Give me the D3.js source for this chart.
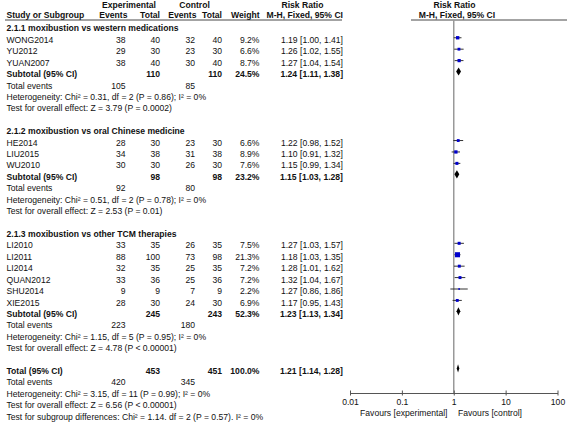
<!DOCTYPE html>
<html><head><meta charset="utf-8">
<script src="https://cdn.jsdelivr.net/npm/d3@7"></script>
<style>
html,body{margin:0;padding:0;background:#fff;}
svg text{font-family:"Liberation Sans",Arial,sans-serif;font-size:8.6px;fill:#111;}
svg text.b{font-weight:bold;}
</style></head>
<body>
<svg id="c" width="567" height="424"></svg>
<script>
// ---------- data ----------
const groupTitles = ["2.1.1 moxibustion vs western medications","2.1.2 moxibustion vs oral Chinese medicine","2.1.3 moxibustion vs other TCM therapies"];
const studyNames = [
  ["WONG2014","YU2012","YUAN2007"],
  ["HE2014","LIU2015","WU2010"],
  ["LI2010","LI2011","LI2014","QUAN2012","SHU2014","XIE2015"]
];
const expEvents = [[38,29,38],[28,34,30],[33,88,32,33,9,28]];
const expTotal  = [[40,30,40],[30,38,30],[35,100,35,36,9,30]];
const ctlEvents = [[32,23,30],[23,31,26],[26,73,25,25,7,24]];
const ctlTotal  = [[40,30,40],[30,38,30],[35,98,35,36,9,30]];
const weights   = [[9.2,6.6,8.7],[6.6,8.9,7.6],[7.5,21.3,7.2,7.2,2.2,6.9]];
const rr        = [[1.19,1.26,1.27],[1.22,1.10,1.15],[1.27,1.18,1.28,1.32,1.27,1.17]];
const rrLow     = [[1.00,1.02,1.04],[0.98,0.91,0.99],[1.03,1.03,1.01,1.04,0.86,0.95]];
const rrHigh    = [[1.41,1.55,1.54],[1.52,1.32,1.34],[1.57,1.35,1.62,1.67,1.86,1.43]];
const subExpTotal = [110,98,245];
const subCtlTotal = [110,98,243];
const subWeight   = ["24.5%","23.2%","52.3%"];
const subRR   = [1.24,1.15,1.23];
const subLow  = [1.11,1.03,1.13];
const subHigh = [1.38,1.28,1.34];
const subExpEvents = [105,92,223];
const subCtlEvents = [85,80,180];
const subHet = ["Heterogeneity: Chi² = 0.31, df = 2 (P = 0.86); I² = 0%",
                "Heterogeneity: Chi² = 0.51, df = 2 (P = 0.78); I² = 0%",
                "Heterogeneity: Chi² = 1.15, df = 5 (P = 0.95); I² = 0%"];
const subTest = ["Test for overall effect: Z = 3.79 (P = 0.0002)",
                 "Test for overall effect: Z = 2.53 (P = 0.01)",
                 "Test for overall effect: Z = 4.78 (P < 0.00001)"];
const totExpTotal = 453, totCtlTotal = 451, totWeight = "100.0%";
const totRR = 1.21, totLow = 1.14, totHigh = 1.28;
const totExpEvents = 420, totCtlEvents = 345;
const totLines = ["Heterogeneity: Chi² = 3.15, df = 11 (P = 0.99); I² = 0%",
                  "Test for overall effect: Z = 6.56 (P < 0.00001)",
                  "Test for subgroup differences: Chi² = 1.14. df = 2 (P = 0.57). I² = 0%"];
const tickValues = [0.01,0.1,1,10,100];
const tickLabels = ["0.01","0.1","1","10","100"];
const favourLabels = ["Favours [experimental]","Favours [control]"];

// ---------- layout ----------
const svg = d3.select("#c");
const xs = d3.scaleLog().domain([0.01,100]).range([350,557.5]);
const rowY = i => 5.5 + i*11.42;      // text centre of row i
const base = i => rowY(i) + 3.1;      // baseline
const colX = {left:6.5, ee:125.5, et:160, ce:195, ct:222, w:259.5, rr:343};
const f2 = v => v.toFixed(2);
const ciTxt = (m,l,h) => `${f2(m)} [${f2(l)}, ${f2(h)}]`;

function txt(x,y,s,anchor,bold){
  svg.append("text").attr("x",x).attr("y",y).attr("text-anchor",anchor||"start")
     .attr("class",bold?"b":null).text(s);
}

// headers
txt(129,8,"Experimental","middle",true);
txt(194.5,8,"Control","middle",true);
txt(302.5,8,"Risk Ratio","middle",true);
txt(454.5,8,"Risk Ratio","middle",true);
txt(colX.left,18.3,"Study or Subgroup","start",true);
txt(127.5,18.3,"Events","end",true);
txt(colX.et,18.3,"Total","end",true);
txt(196.5,18.3,"Events","end",true);
txt(colX.ct,18.3,"Total","end",true);
txt(colX.w,18.3,"Weight","end",true);
txt(colX.rr,18.3,"M-H, Fixed, 95% CI","end",true);
txt(457,18.3,"M-H, Fixed, 95% CI","middle",true);
svg.append("line").attr("x1",5).attr("x2",342).attr("y1",20).attr("y2",20).attr("stroke","#333").attr("stroke-width",0.9);
svg.append("line").attr("x1",411).attr("x2",567).attr("y1",20).attr("y2",20).attr("stroke","#333").attr("stroke-width",0.9);

// null line
const axisY = 393;
svg.append("line").attr("x1",xs(1)).attr("x2",xs(1)).attr("y1",20).attr("y2",axisY)
   .attr("stroke","#999").attr("stroke-width",1.5);

const marks = svg.append("g");
function studyMark(i,m,l,h,w){
  const y = rowY(i)-2;
  marks.append("line").attr("x1",xs(l)).attr("x2",xs(h)).attr("y1",y).attr("y2",y)
       .attr("stroke","#333").attr("stroke-width",1);
  const s = 1.1*Math.sqrt(w);
  marks.append("rect").attr("x",xs(m)-s/2).attr("y",y-s/2).attr("width",s).attr("height",s)
       .attr("fill","#0000cc");
}
function diamond(i,m,l,h){
  const y = rowY(i)-2.5, hh = 4.1;
  marks.append("path").attr("d",`M${xs(l)},${y}L${xs(m)},${y-hh}L${xs(h)},${y}L${xs(m)},${y+hh}Z`)
       .attr("fill","#000");
}

let r = 2;
groupTitles.forEach((g,gi)=>{
  txt(colX.left,base(r),g,"start",true); r++;
  studyNames[gi].forEach((n,si)=>{
    txt(colX.left,base(r),n);
    txt(colX.ee,base(r),expEvents[gi][si],"end");
    txt(colX.et,base(r),expTotal[gi][si],"end");
    txt(colX.ce,base(r),ctlEvents[gi][si],"end");
    txt(colX.ct,base(r),ctlTotal[gi][si],"end");
    txt(colX.w,base(r),weights[gi][si].toFixed(1)+"%","end");
    txt(colX.rr,base(r),ciTxt(rr[gi][si],rrLow[gi][si],rrHigh[gi][si]),"end");
    studyMark(r,rr[gi][si],rrLow[gi][si],rrHigh[gi][si],weights[gi][si]);
    r++;
  });
  txt(colX.left,base(r),"Subtotal (95% CI)","start",true);
  txt(colX.et,base(r),subExpTotal[gi],"end",true);
  txt(colX.ct,base(r),subCtlTotal[gi],"end",true);
  txt(colX.w,base(r),subWeight[gi],"end",true);
  txt(colX.rr,base(r),ciTxt(subRR[gi],subLow[gi],subHigh[gi]),"end",true);
  diamond(r,subRR[gi],subLow[gi],subHigh[gi]);
  r++;
  txt(colX.left,base(r),"Total events");
  txt(colX.ee,base(r),subExpEvents[gi],"end");
  txt(colX.ce,base(r),subCtlEvents[gi],"end");
  r++;
  txt(colX.left,base(r),subHet[gi]); r++;
  txt(colX.left,base(r),subTest[gi]); r++;
  r++;
});
txt(colX.left,base(r),"Total (95% CI)","start",true);
txt(colX.et,base(r),totExpTotal,"end",true);
txt(colX.ct,base(r),totCtlTotal,"end",true);
txt(colX.w,base(r),totWeight,"end",true);
txt(colX.rr,base(r),ciTxt(totRR,totLow,totHigh),"end",true);
diamond(r,totRR,totLow,totHigh);
r++;
txt(colX.left,base(r),"Total events");
txt(colX.ee,base(r),totExpEvents,"end");
txt(colX.ce,base(r),totCtlEvents,"end");
r++;
totLines.forEach(t=>{ txt(colX.left,base(r),t); r++; });

// axis
const ax = d3.axisBottom(xs).tickValues(tickValues).tickFormat((d,i)=>tickLabels[i]).tickSizeOuter(0).tickSizeInner(2).tickPadding(4);
const ag = svg.append("g").attr("transform",`translate(0,${axisY})`).call(ax);
ag.select(".domain").attr("stroke","#555").attr("stroke-width",1);
ag.selectAll(".tick line").attr("y1",-2.5).attr("y2",2.5).attr("stroke","#555");
ag.selectAll(".tick text").style("font-size","8.6px").attr("fill","#111");
txt(447.5,415.5,favourLabels[0],"end");
txt(458,415.5,favourLabels[1],"start");
</script>
</body></html>
